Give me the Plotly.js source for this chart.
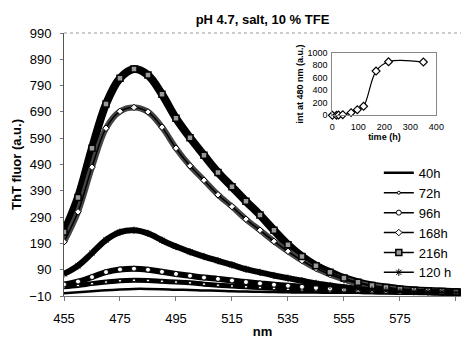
<!DOCTYPE html>
<html>
<head>
<meta charset="utf-8">
<script src="https://cdn.plot.ly/plotly-3.0.1.min.js"></script>
<style>html,body{margin:0;padding:0;background:#fff;}#chart{width:461px;height:339px;}</style>
</head>
<body>
<div id="chart"></div>
<script>
// Wavelength grid (nm)
const wavelength = [455,460,465,470,475,480,485,490,495,500,505,510,515,520,525,530,535,540,545,550,555,560,565,570,575,580,585,590,595,600];
// ThT fluorescence spectra (a.u.)
const h40  = [0,4,8,12,15,17,17,16,14,13,11,10,8,7,6,5,4,3,3,2,2,2,1,1,1,1,1,0,0,0];
const h72  = [25,30,37,43,48,50,49,46,43,40,35,31,28,25,22,19,16,14,12,10,8,7,6,5,4,3,3,2,2,2];
const h96  = [34,45,62,81,91,94,90,82,74,67,60,55,49,43,38,33,29,25,21,18,15,12,10,8,6,5,4,3,3,2];
const h120 = [74,105,153,203,233,240,228,202,178,158,140,124,108,92,80,68,58,48,38,30,23,17,13,10,8,6,5,4,3,3];
const h168 = [196,310,480,628,692,707,690,632,552,485,430,375,330,282,240,198,160,125,95,72,53,38,28,20,14,10,7,5,4,3];
const h216 = [233,365,552,720,818,853,830,757,666,592,525,460,405,350,298,240,185,140,105,80,58,42,30,22,16,12,9,7,5,4];
// Inset: intensity at 480 nm vs time
const timeH   = [0,16,24,40,72,96,120,168,216,350];
const int480  = [0,0,5,10,43,90,144,707,856,851];

const seriesNames = ['40h','72h','96h','168h','216h','120 h'];
const FONT = 'Liberation Sans, Arial, Helvetica, sans-serif';

function band(y, color, width) {
  return {x: wavelength, y: y, type: 'scatter', mode: 'lines', showlegend: false,
          hoverinfo: 'skip', line: {color: color, width: width, shape: 'spline'}};
}
function over(y, name, marker) {
  return {x: wavelength, y: y, type: 'scatter', mode: 'lines+markers', name: name,
          line: {color: '#000', width: 1.5, shape: 'spline'}, marker: marker, cliponaxis: true};
}

const traces = [
  band(h216, '#000', 8),
  band(h168, '#444', 6),
  band(h120, '#000', 6),
  band(h96, '#000', 6),
  band(h72, '#000', 5),
  {x: wavelength, y: h40, type: 'scatter', mode: 'lines', name: seriesNames[0],
   line: {color: '#000', width: 2.5, shape: 'spline'}},
  over(h72, seriesNames[1], {symbol: 'circle', size: 3, color: '#fff', line: {color: '#000', width: 1}}),
  over(h96, seriesNames[2], {symbol: 'circle', size: 5, color: '#fff', line: {color: '#000', width: 1}}),
  over(h168, seriesNames[3], {symbol: 'diamond', size: 5, color: '#fff', line: {color: '#000', width: 1}}),
  over(h216, seriesNames[4], {symbol: 'square', size: 6, color: '#999', line: {color: '#000', width: 1.5}}),
  over(h120, seriesNames[5], {symbol: 'asterisk-open', size: 6, color: '#000', line: {color: '#000', width: 1}}),
  {x: timeH, y: int480, type: 'scatter', mode: 'lines+markers', xaxis: 'x2', yaxis: 'y2',
   showlegend: false, cliponaxis: false,
   line: {color: '#000', width: 1.2, shape: 'spline'},
   marker: {symbol: 'diamond', size: 6, color: '#fff', line: {color: '#000', width: 1.2}}}
];

const layout = {
  width: 461, height: 339,
  margin: {l: 64, r: 0, t: 33, b: 43, pad: 0},
  paper_bgcolor: '#fff', plot_bgcolor: '#fff',
  font: {family: FONT, size: 13, color: '#000'},
  title: {text: '<b>pH 4.7, salt, 10 % TFE</b>', font: {family: FONT, size: 13, color: '#000'},
          xref: 'paper', x: 0.5, xanchor: 'center', yref: 'container', y: 1 - 19/339, yanchor: 'middle'},
  xaxis: {range: [455, 596.8], tick0: 455, dtick: 20, showgrid: false, zeroline: false,
          showline: true, linecolor: '#777', linewidth: 1, ticks: 'outside', ticklen: 4, tickcolor: '#777',
          tickfont: {size: 13, family: FONT}, ticklabelstandoff: 6,
          title: {text: '<b>nm</b>', font: {size: 13, family: FONT}, standoff: 6}},
  yaxis: {range: [-10, 990], tick0: -10, dtick: 100, showgrid: false, zeroline: false,
          showline: true, linecolor: '#555', linewidth: 1, ticks: 'outside', ticklen: 3, tickcolor: '#777',
          tickfont: {size: 13, family: FONT}, ticklabelstandoff: 6,
          title: {text: '<b>ThT fluor (a.u.)</b>', font: {size: 13, family: FONT}, standoff: 4}},
  xaxis2: {domain: [0.676, 0.938], anchor: 'y2', range: [0, 400], dtick: 100, showgrid: false, zeroline: false,
           showline: true, mirror: true, linecolor: '#888', linewidth: 1, ticks: '',
           tickfont: {size: 9, family: FONT}, ticklabelstandoff: 3,
           title: {text: '<b>time (h)</b>', font: {size: 9, family: FONT}, standoff: 2}},
  yaxis2: {domain: [0.687, 0.925], anchor: 'x2', range: [0, 1000], dtick: 200, showgrid: false, zeroline: false,
           showline: true, mirror: true, linecolor: '#888', linewidth: 1, ticks: '',
           tickfont: {size: 9, family: FONT}, ticklabelstandoff: 2,
           title: {text: '<b>int at 480 nm (a.u.)</b>', font: {size: 9, family: FONT}, standoff: 2}},
  legend: {x: 0.793, xanchor: 'left', y: 0.278, yanchor: 'middle', bgcolor: 'rgba(0,0,0,0)',
           borderwidth: 0, font: {size: 13, family: FONT}, itemwidth: 30, traceorder: 'normal'},
  shapes: [
    {type: 'line', xref: 'paper', yref: 'paper', x0: 0, x1: 1, y0: 1, y1: 1,
     line: {color: '#999', width: 1, dash: 'dot'}}
  ],
  showlegend: true
};

Plotly.newPlot('chart', traces, layout, {staticPlot: true, displayModeBar: false});
</script>
</body>
</html>
